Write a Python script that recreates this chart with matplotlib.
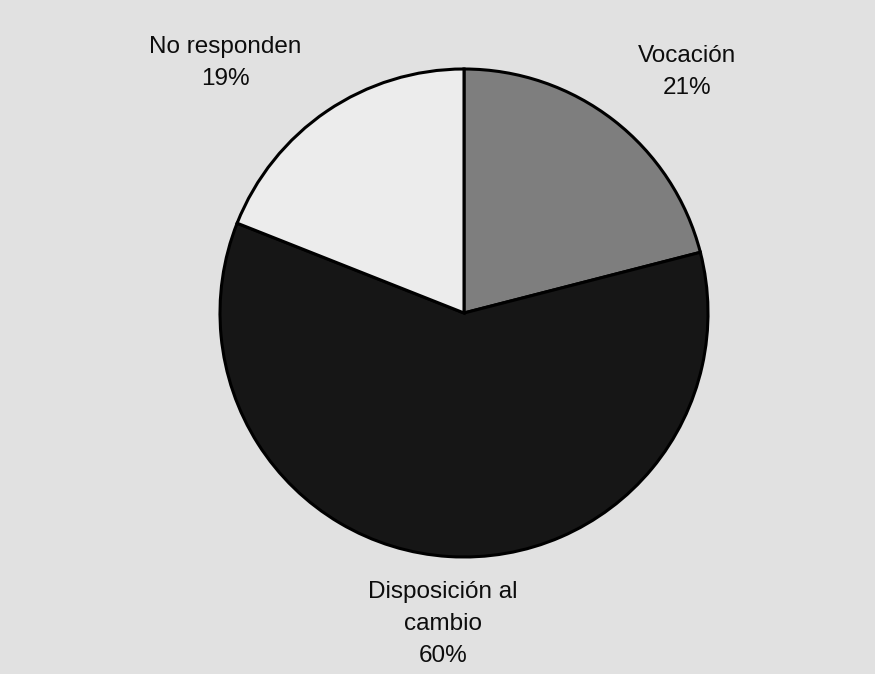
import matplotlib
matplotlib.use("Agg")
import matplotlib.pyplot as plt

# Slice data, clockwise from 12 o'clock
labels = ['Vocación', 'Disposición al\ncambio', 'No responden']
shares = [21, 60, 19]
colors = ['#7e7e7e', '#161616', '#ececec']

# label anchor points in pixel coords (x, y from top)
label_pos = [(687, 72), (443, 624), (225, 63)]

plt.rcParams['font.family'] = ['Liberation Sans', 'DejaVu Sans']

W, H = 875, 674
fig = plt.figure(figsize=(W / 100, H / 100), dpi=100)
fig.patch.set_facecolor('#e1e1e1')
ax = fig.add_axes([0, 0, 1, 1])

cx, cy, r = 464, 313, 244
ax.pie(shares, colors=colors, startangle=90, counterclock=False,
       center=(cx, H - cy), radius=r, frame=True,
       wedgeprops=dict(edgecolor='black', linewidth=2.2))
ax.set_xlim(0, W)
ax.set_ylim(0, H)
ax.set_aspect('equal')
ax.axis('off')

for lab, val, (x, y) in zip(labels, shares, label_pos):
    ax.text(x, H - y, f"{lab}\n{val}%", ha='center', va='center',
            fontsize=17.5, linespacing=1.6, color='#0d0d0d')

fig.savefig('out.png', dpi=100, facecolor=fig.get_facecolor())
